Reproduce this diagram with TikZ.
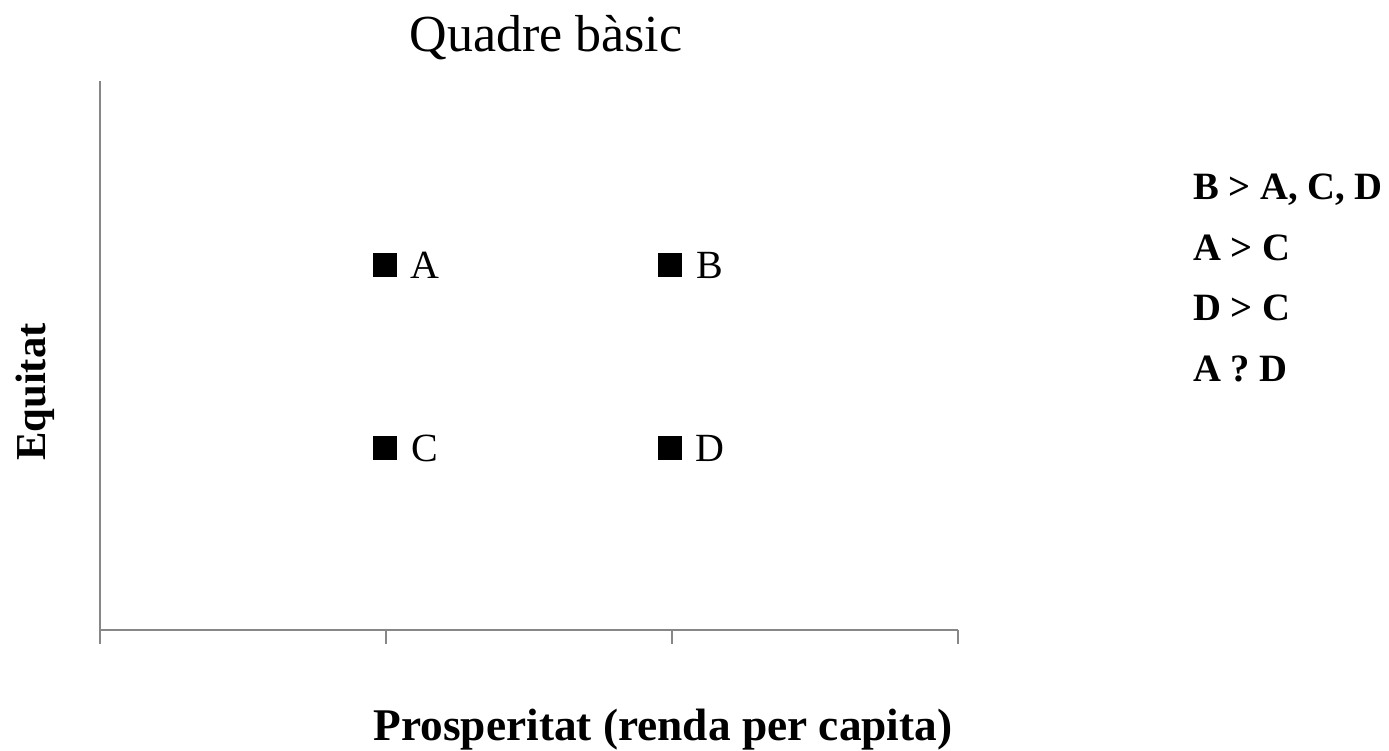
\documentclass[tikz,border=0pt]{standalone}
\usepackage{fontspec}
\setmainfont{Liberation Serif}
\definecolor{axisgray}{HTML}{878787}
\tikzset{
  axisline/.style={draw=axisgray, line width=1.6pt},
  marker/.style={fill=black, draw=none, minimum width=17.5pt, minimum height=17.5pt, inner sep=0pt},
  ptlabel/.style={inner sep=0pt, font=\fontsize{30}{36}\selectfont},
  rule/.style={inner sep=0pt, anchor=base west, font=\bfseries\fontsize{29}{35}\selectfont},
}
\begin{document}
\begin{tikzpicture}[x=0.75pt, y=-0.75pt]
\useasboundingbox[fill=white] (0,0) rectangle (1389,750);
% axes
\coordinate (ytop) at (100,81);
\coordinate (ybot) at (100,644);
\coordinate (x0) at (100,630);
\coordinate (x3) at (958,630);
\draw[axisline] (ytop) -- (ybot);
\draw[axisline] (x0) -- (x3);
\foreach \xx/\nm in {386/t1, 672/t2, 958/t3} {
  \coordinate (\nm a) at (\xx,630);
  \coordinate (\nm b) at (\xx,644);
  \draw[axisline] (\nm a) -- (\nm b);
}
% points
\node[marker] (A) at (385,265) {};
\node[marker] (B) at (670,265) {};
\node[marker] (C) at (385,448) {};
\node[marker] (D) at (670,448) {};
\node[ptlabel] (Al) at (425,265) {A};
\node[ptlabel] (Bl) at (710,265) {B};
\node[ptlabel] (Cl) at (425,448) {C};
\node[ptlabel] (Dl) at (710,448) {D};
% titles
\node[inner sep=0pt, anchor=base, font=\fontsize{39}{46}\selectfont] (title) at (546,51) {Quadre bàsic};
\node[inner sep=0pt, anchor=base, font=\bfseries\fontsize{34}{40}\selectfont] (xlabel) at (663,740) {Prosperitat (renda per capita)};
\node[inner sep=0pt, anchor=base, rotate=90, font=\bfseries\fontsize{32}{38}\selectfont] (ylabel) at (45,392) {Equitat};
% rules
\node[rule] (r1) at (1193,199) {B > A, C, D};
\node[rule] (r2) at (1193,260) {A > C};
\node[rule] (r3) at (1193,320) {D > C};
\node[rule] (r4) at (1193,381) {A ? D};
\end{tikzpicture}
\end{document}
